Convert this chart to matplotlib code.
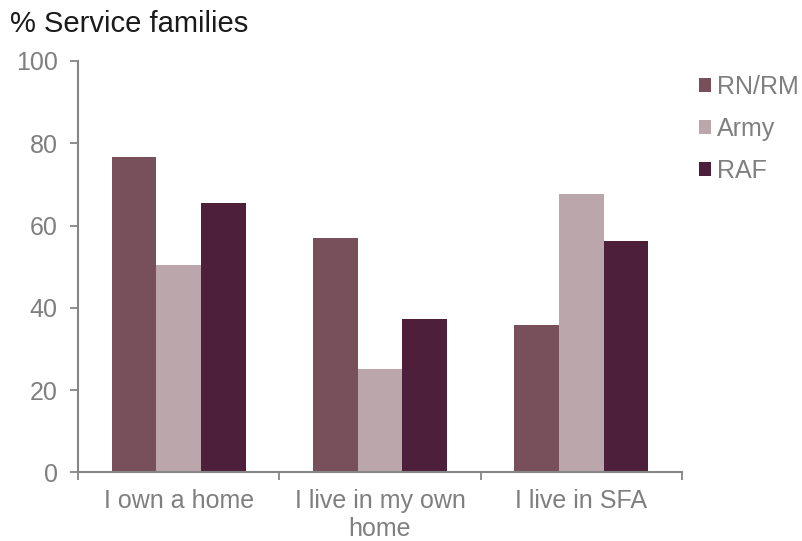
import matplotlib
matplotlib.use("Agg")
import matplotlib.pyplot as plt
from matplotlib.patches import Patch
import numpy as np

plt.rcParams['font.family'] = ['Liberation Sans', 'DejaVu Sans']

categories = ["I own a home", "I live in my own\nhome", "I live in SFA"]
series_names = ["RN/RM", "Army", "RAF"]
rn_rm = [76.7, 56.9, 35.9]
army = [50.4, 25.1, 67.6]
raf = [65.4, 37.3, 56.2]
colors = ["#77505C", "#BBA7AB", "#4E1F3A"]
y_ticks = [0, 20, 40, 60, 80, 100]

grey = "#868686"
label_grey = "#7F7F7F"

fig = plt.figure(figsize=(8.03, 5.41), dpi=100)
ax = fig.add_axes([78 / 803, 1 - 472.3 / 541, (682 - 78) / 803, (472.3 - 61) / 541])

x = np.arange(len(categories))
width = 1 / 4.5
for i, (vals, c) in enumerate(zip([rn_rm, army, raf], colors)):
    ax.bar(x + (i - 1) * width, vals, width, color=c, edgecolor="none", zorder=2)

ax.set_xlim(-0.5, len(categories) - 0.5)
ax.set_ylim(0, 100)
ax.set_yticks(y_ticks)

# category boundaries carry the tick marks; labels sit at the centres
ax.set_xticks(np.arange(-0.5, len(categories), 1.0))
ax.set_xticklabels([])
ax.set_xticks(x, minor=True)
ax.set_xticklabels(categories, minor=True, linespacing=1.2)
ax.tick_params(axis="x", which="major", length=6, width=1.3, color=grey, direction="out")
ax.tick_params(axis="x", which="minor", length=0, pad=12, labelsize=18, labelcolor=label_grey)
ax.tick_params(axis="y", length=6, width=1.3, color=grey, direction="out", pad=8.5,
               labelsize=18, labelcolor=label_grey)

for s in ["top", "right"]:
    ax.spines[s].set_visible(False)
for s in ["left", "bottom"]:
    ax.spines[s].set_color(grey)
    ax.spines[s].set_linewidth(1.5)

fig.text(10 / 803, 1 - 32.5 / 541, "% Service families", fontsize=21,
         color="#1A1A1A", va="baseline", ha="left")

handles = [Patch(facecolor=c, edgecolor="none") for c in colors]
fig.legend(handles, series_names, loc="upper left",
           bbox_to_anchor=(699 / 803, 1 - 75 / 541), frameon=False,
           fontsize=18, labelcolor=label_grey, handlelength=0.5, handleheight=0.5,
           handletextpad=0.22, labelspacing=0.71, borderpad=0, borderaxespad=0)

fig.savefig("out.png", dpi=100)
